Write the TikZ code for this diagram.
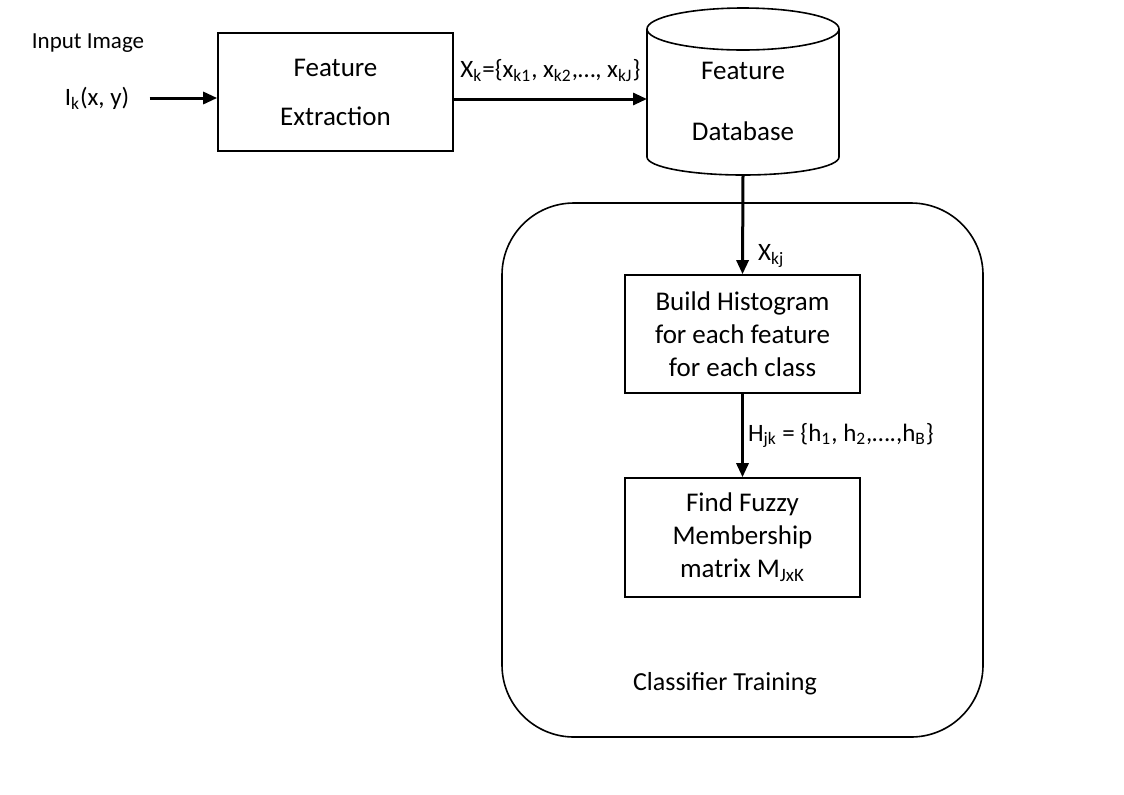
\documentclass[tikz,border=0pt]{standalone}
\usepackage{fontspec}
\setmainfont{Carlito}
\usetikzlibrary{arrows.meta}
\newcommand{\lowidx}[1]{\textsubscript{#1}}

\begin{document}
\begin{tikzpicture}[x=0.5pt,y=-0.5pt,font=\fontsize{12.5}{16.5}\selectfont,
	block/.style={draw,line width=0.8pt,minimum width=117.5pt,align=center,
		font=\fontsize{13.5}{16.5}\selectfont},
	flow/.style={line width=1.5pt,-{Triangle[length=7pt,width=6pt]}},
	lbl/.style={inner sep=1pt}]
%
	\useasboundingbox (0,0) rectangle (1124,794);
%
	\node[lbl,font=\fontsize{11.5}{14}\selectfont] (inimg) at (88,43) {Input Image};
	\node[lbl] (ik) at (97,98) {I\lowidx{k}(x, y)};
	\node[block,minimum height=59pt] (fe) at (335.5,92) {Feature\\[8pt]Extraction};
%
	% database cylinder
	\node[align=center,font=\fontsize{13.5}{16.5}\selectfont] (db) at (743,101) {Feature\\[14pt]Database};
	\draw[line width=0.8pt] (647,29) -- (647,157)
		arc[start angle=180,end angle=0,x radius=96,y radius=18] -- (839,29);
	\draw[line width=0.8pt] (743,29) ellipse[x radius=96,y radius=21];
	\coordinate (dbin) at (647,99);
	\coordinate (dbout) at (743,175);
%
	% classifier training
	\draw[line width=0.8pt,rounded corners=36pt] (502,203) rectangle (983,737);
	\node[lbl,font=\fontsize{13}{16}\selectfont] (train) at (725,684) {Classifier Training};
	\node[block,minimum height=59pt] (hist) at (742.5,334) {Build Histogram\\for each feature\\for each class};
	\node[block,minimum height=59.5pt] (fuzzy) at (742.5,537.5) {Find Fuzzy\\Membership\\matrix M\lowidx{JxK}};
%
	\draw[flow] ([xshift=9pt]ik.east) -- (ik -| fe.west);
	\draw[flow] (fe.east |- dbin) -- (dbin)
		node[lbl,midway,above=7pt] {X\lowidx{k}=\{x\lowidx{k1}, x\lowidx{k2},…, x\lowidx{kJ}\}};
	\draw[flow] (dbout) -- (hist.north)
		node[lbl,pos=0.82,right=6pt] {X\lowidx{kj}};
	\draw[flow] (hist.south) -- (fuzzy.north)
		node[lbl,midway,right=1pt] {H\lowidx{jk} = \{h\lowidx{1}, h\lowidx{2},….,h\lowidx{B}\}};
\end{tikzpicture}
\end{document}
